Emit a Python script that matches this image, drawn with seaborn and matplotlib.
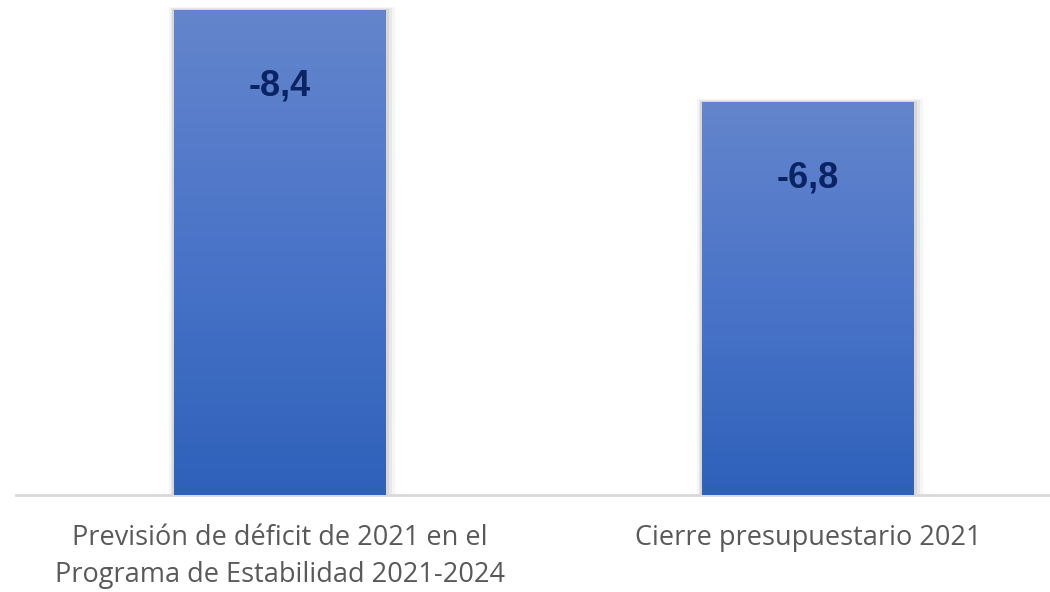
import numpy as np
import pandas as pd
import matplotlib
matplotlib.use("Agg")
import matplotlib.pyplot as plt
import seaborn as sns
from matplotlib.colors import LinearSegmentedColormap
from matplotlib.patches import Rectangle

categories = ["Previsión de déficit de 2021 en el\nPrograma de Estabilidad 2021-2024",
              "Cierre presupuestario 2021"]
values = [-8.4, -6.8]
value_labels = ["-8,4", "-6,8"]

df = pd.DataFrame({"cat": categories, "val": [abs(v) for v in values]})

sns.set_theme(style="white")
W, H, DPI = 1050, 592, 100
fig = plt.figure(figsize=(W / DPI, H / DPI), dpi=DPI)
base_y = 495
top_y = 10
ax = fig.add_axes([16 / W, (H - base_y) / H, 1056 / W, (base_y - top_y) / H])

sns.barplot(data=df, x="cat", y="val", ax=ax, width=0.4, color="#3A6BC4",
            saturation=1, edgecolor="none", linewidth=0)
ax.set_xlim(-0.5, 1.5)
ax.set_ylim(0, 8.4)
ax.set_clip_on(False)

cmap = LinearSegmentedColormap.from_list("g", ["#2E61BA", "#4A74C8", "#6485CC"])
grad = np.linspace(0, 1, 256).reshape(-1, 1)
for p, lab in zip(ax.patches, value_labels):
    x0, w, h = p.get_x(), p.get_width(), p.get_height()
    # soft shadow
    for i, a in enumerate([0.04, 0.05, 0.07]):
        off = 0.006 * (3 - i)
        sh = Rectangle((x0 - off * 0.6, 0), w + off * 1.6, h + 0.02 * (3 - i),
                       facecolor="black", alpha=a, edgecolor="none", zorder=1,
                       clip_on=False)
        ax.add_patch(sh)
    p.set_zorder(2)
    im = ax.imshow(grad, cmap=cmap, aspect="auto", extent=(x0, x0 + w, 0, h),
                   origin="lower", zorder=3)
    im.set_clip_path(p)
    ax.text(x0 + w / 2, h - 1.31, lab, ha="center", va="center", fontsize=26,
            fontweight="bold", color="#0A2463", family="Liberation Sans", zorder=5)

for s in ["top", "right", "left"]:
    ax.spines[s].set_visible(False)
ax.spines["bottom"].set_color("#D9D9D9")
ax.spines["bottom"].set_linewidth(2)
ax.set_yticks([])
ax.set_xlabel("")
ax.set_ylabel("")
ax.tick_params(axis="x", length=0, pad=21, labelsize=19.5, labelcolor="#595959")
for t in ax.get_xticklabels():
    t.set_family("Open Sans")
    t.set_linespacing(1.4)

fig.savefig("out.png", dpi=DPI)
